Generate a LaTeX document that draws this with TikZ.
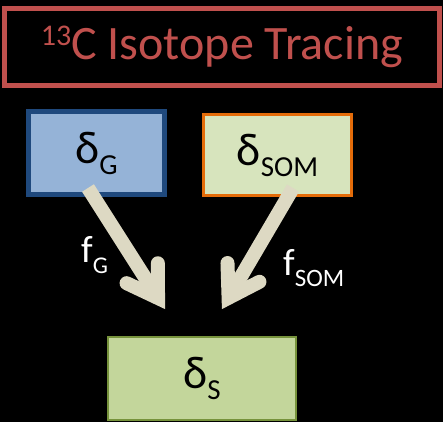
\documentclass[tikz,border=0pt]{standalone}
\usepackage{fontspec}
\setmainfont{Carlito}
\usetikzlibrary{calc}
\definecolor{titlered}{HTML}{C0504D}
\definecolor{gblue}{HTML}{95B3D7}
\definecolor{gblueline}{HTML}{1F497D}
\definecolor{somfill}{HTML}{D7E4BD}
\definecolor{somline}{HTML}{E46C0A}
\definecolor{sfill}{HTML}{C3D69B}
\definecolor{sline}{HTML}{77933C}
\definecolor{arrowbeige}{HTML}{DDD9C3}
\newcommand\mysub[2]{\raisebox{-11pt}{\fontsize{#1}{#1}\selectfont #2}}
\tikzset{
  box/.style={rectangle, inner sep=0pt, text=black, font=\fontsize{46}{50}\selectfont},
  shaft/.style={draw=arrowbeige, line width=14pt, line cap=butt},
  barb/.style={draw=arrowbeige, line width=14pt, line cap=round, line join=miter},
  lab/.style={anchor=base west, inner sep=0pt, text=white, font=\fontsize{38}{40}\selectfont}
}
\begin{document}
\begin{tikzpicture}[x=1pt,y=-1pt]
\fill[black] (0,0) rectangle (443,422);
\useasboundingbox (0,0) rectangle (443,422);
\node[draw=titlered, line width=5pt, minimum width=435pt, minimum height=77pt, inner sep=0pt,
  text=titlered, font=\fontsize{48}{52}\selectfont] (title) at (222,47)
  {\raisebox{14pt}{\fontsize{30}{30}\selectfont 13}C Isotope Tracing};
\node[box, draw=gblueline, fill=gblue, line width=5pt, minimum width=136pt, minimum height=83pt] (G) at (96.5,153) {δ\mysub{29}{G}};
\node[box, draw=somline, fill=somfill, line width=3pt, minimum width=148pt, minimum height=81pt] (SOM) at (277.5,155) {δ\mysub{29}{SOM}};
\node[box, draw=sline, fill=sfill, line width=2pt, minimum width=188pt, minimum height=83pt] (S) at (202,378.5) {δ\mysub{29}{S}};
% left arrow
\coordinate (gstart) at (88,188);
\coordinate (gtip) at (165,309);
\coordinate (gc) at ($(gtip)!13pt!(gstart)$);
\coordinate (gb1) at ($(gtip)!46.3pt!23.6:(gstart)$);
\coordinate (gb2) at ($(gtip)!46.3pt!-23.6:(gstart)$);
\draw[shaft] (gstart) -- (gc);
\draw[barb] (gb1) -- (gc) -- (gb2);
% right arrow
\coordinate (sstart) at (293,188);
\coordinate (stip) at (222,309);
\coordinate (sc) at ($(stip)!13pt!(sstart)$);
\coordinate (sb1) at ($(stip)!46.3pt!23.6:(sstart)$);
\coordinate (sb2) at ($(stip)!46.3pt!-23.6:(sstart)$);
\draw[shaft] (sstart) -- (sc);
\draw[barb] (sb1) -- (sc) -- (sb2);
\node[lab] (fG) at (81,262) {f\mysub{24}{G}};
\node[lab] (fSOM) at (283,275) {f\mysub{25}{SOM}};
\end{tikzpicture}
\end{document}
